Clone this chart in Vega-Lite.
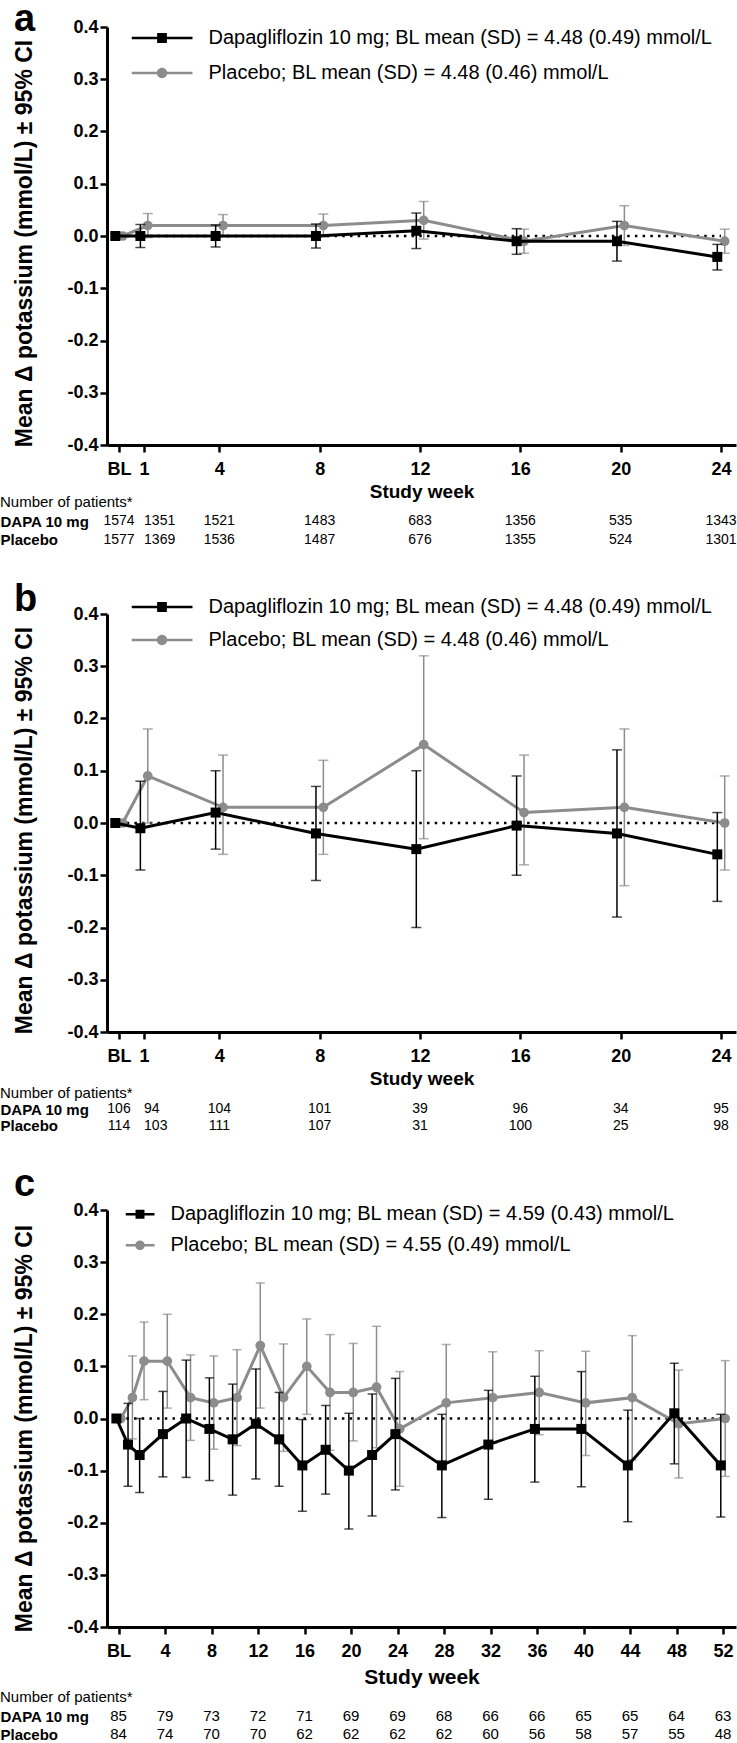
{
  "$schema": "https://vega.github.io/schema/vega-lite/v6.json",
  "background": "white",
  "padding": 0,
  "config": {"view": {"stroke": null}, "font": "Liberation Sans", "axis": {"grid": false}},
  "resolve": {"scale": {"color": "independent", "shape": "independent"}},
  "datasets": {
    "a": [
      {"week": 0, "group": "Dapagliflozin 10 mg", "mean": 0},
      {"week": 1, "group": "Dapagliflozin 10 mg", "mean": 0, "lo": -0.022, "hi": 0.022},
      {"week": 4, "group": "Dapagliflozin 10 mg", "mean": 0, "lo": -0.021, "hi": 0.021},
      {"week": 8, "group": "Dapagliflozin 10 mg", "mean": 0, "lo": -0.023, "hi": 0.023},
      {"week": 12, "group": "Dapagliflozin 10 mg", "mean": 0.01, "lo": -0.024, "hi": 0.044},
      {"week": 16, "group": "Dapagliflozin 10 mg", "mean": -0.01, "lo": -0.035, "hi": 0.014},
      {"week": 20, "group": "Dapagliflozin 10 mg", "mean": -0.01, "lo": -0.048, "hi": 0.028},
      {"week": 24, "group": "Dapagliflozin 10 mg", "mean": -0.04, "lo": -0.065, "hi": -0.016},
      {"week": 0, "group": "Placebo", "mean": 0},
      {"week": 1, "group": "Placebo", "mean": 0.02, "lo": -0.003, "hi": 0.043},
      {"week": 4, "group": "Placebo", "mean": 0.02, "lo": -0.001, "hi": 0.041},
      {"week": 8, "group": "Placebo", "mean": 0.02, "lo": -0.002, "hi": 0.042},
      {"week": 12, "group": "Placebo", "mean": 0.03, "lo": -0.006, "hi": 0.066},
      {"week": 16, "group": "Placebo", "mean": -0.01, "lo": -0.033, "hi": 0.013},
      {"week": 20, "group": "Placebo", "mean": 0.02, "lo": -0.018, "hi": 0.058},
      {"week": 24, "group": "Placebo", "mean": -0.01, "lo": -0.033, "hi": 0.013}
    ],
    "b": [
      {"week": 0, "group": "Dapagliflozin 10 mg", "mean": 0},
      {"week": 1, "group": "Dapagliflozin 10 mg", "mean": -0.01, "lo": -0.09, "hi": 0.08},
      {"week": 4, "group": "Dapagliflozin 10 mg", "mean": 0.02, "lo": -0.05, "hi": 0.1},
      {"week": 8, "group": "Dapagliflozin 10 mg", "mean": -0.02, "lo": -0.11, "hi": 0.07},
      {"week": 12, "group": "Dapagliflozin 10 mg", "mean": -0.05, "lo": -0.2, "hi": 0.1},
      {"week": 16, "group": "Dapagliflozin 10 mg", "mean": -0.005, "lo": -0.1, "hi": 0.09},
      {"week": 20, "group": "Dapagliflozin 10 mg", "mean": -0.02, "lo": -0.18, "hi": 0.14},
      {"week": 24, "group": "Dapagliflozin 10 mg", "mean": -0.06, "lo": -0.15, "hi": 0.02},
      {"week": 0, "group": "Placebo", "mean": 0},
      {"week": 1, "group": "Placebo", "mean": 0.09, "lo": 0.0, "hi": 0.18},
      {"week": 4, "group": "Placebo", "mean": 0.03, "lo": -0.06, "hi": 0.13},
      {"week": 8, "group": "Placebo", "mean": 0.03, "lo": -0.06, "hi": 0.12},
      {"week": 12, "group": "Placebo", "mean": 0.15, "lo": -0.03, "hi": 0.32},
      {"week": 16, "group": "Placebo", "mean": 0.02, "lo": -0.08, "hi": 0.13},
      {"week": 20, "group": "Placebo", "mean": 0.03, "lo": -0.12, "hi": 0.18},
      {"week": 24, "group": "Placebo", "mean": 0.0, "lo": -0.09, "hi": 0.09}
    ],
    "c": [
      {"week": 0, "group": "Dapagliflozin 10 mg", "mean": 0},
      {"week": 1, "group": "Dapagliflozin 10 mg", "mean": -0.05, "lo": -0.13, "hi": 0.029},
      {"week": 2, "group": "Dapagliflozin 10 mg", "mean": -0.07, "lo": -0.142, "hi": 0.0},
      {"week": 4, "group": "Dapagliflozin 10 mg", "mean": -0.03, "lo": -0.112, "hi": 0.052},
      {"week": 6, "group": "Dapagliflozin 10 mg", "mean": 0.0, "lo": -0.113, "hi": 0.112},
      {"week": 8, "group": "Dapagliflozin 10 mg", "mean": -0.02, "lo": -0.119, "hi": 0.078},
      {"week": 10, "group": "Dapagliflozin 10 mg", "mean": -0.04, "lo": -0.147, "hi": 0.066},
      {"week": 12, "group": "Dapagliflozin 10 mg", "mean": -0.01, "lo": -0.116, "hi": 0.095},
      {"week": 14, "group": "Dapagliflozin 10 mg", "mean": -0.04, "lo": -0.13, "hi": 0.05},
      {"week": 16, "group": "Dapagliflozin 10 mg", "mean": -0.09, "lo": -0.178, "hi": -0.002},
      {"week": 18, "group": "Dapagliflozin 10 mg", "mean": -0.06, "lo": -0.145, "hi": 0.025},
      {"week": 20, "group": "Dapagliflozin 10 mg", "mean": -0.1, "lo": -0.212, "hi": 0.01},
      {"week": 22, "group": "Dapagliflozin 10 mg", "mean": -0.07, "lo": -0.187, "hi": 0.047},
      {"week": 24, "group": "Dapagliflozin 10 mg", "mean": -0.03, "lo": -0.137, "hi": 0.077},
      {"week": 28, "group": "Dapagliflozin 10 mg", "mean": -0.09, "lo": -0.19, "hi": 0.008},
      {"week": 32, "group": "Dapagliflozin 10 mg", "mean": -0.05, "lo": -0.155, "hi": 0.054},
      {"week": 36, "group": "Dapagliflozin 10 mg", "mean": -0.02, "lo": -0.122, "hi": 0.081},
      {"week": 40, "group": "Dapagliflozin 10 mg", "mean": -0.02, "lo": -0.131, "hi": 0.09},
      {"week": 44, "group": "Dapagliflozin 10 mg", "mean": -0.09, "lo": -0.198, "hi": 0.016},
      {"week": 48, "group": "Dapagliflozin 10 mg", "mean": 0.01, "lo": -0.087, "hi": 0.106},
      {"week": 52, "group": "Dapagliflozin 10 mg", "mean": -0.09, "lo": -0.189, "hi": 0.008},
      {"week": 0, "group": "Placebo", "mean": 0},
      {"week": 1, "group": "Placebo", "mean": 0.04, "lo": -0.039, "hi": 0.12},
      {"week": 2, "group": "Placebo", "mean": 0.11, "lo": 0.036, "hi": 0.185},
      {"week": 4, "group": "Placebo", "mean": 0.11, "lo": 0.02, "hi": 0.2},
      {"week": 6, "group": "Placebo", "mean": 0.04, "lo": -0.042, "hi": 0.122},
      {"week": 8, "group": "Placebo", "mean": 0.03, "lo": -0.059, "hi": 0.12},
      {"week": 10, "group": "Placebo", "mean": 0.04, "lo": -0.052, "hi": 0.132},
      {"week": 12, "group": "Placebo", "mean": 0.14, "lo": 0.02, "hi": 0.26},
      {"week": 14, "group": "Placebo", "mean": 0.04, "lo": -0.063, "hi": 0.143},
      {"week": 16, "group": "Placebo", "mean": 0.1, "lo": 0.008, "hi": 0.191},
      {"week": 18, "group": "Placebo", "mean": 0.05, "lo": -0.061, "hi": 0.161},
      {"week": 20, "group": "Placebo", "mean": 0.05, "lo": -0.043, "hi": 0.144},
      {"week": 22, "group": "Placebo", "mean": 0.06, "lo": -0.056, "hi": 0.177},
      {"week": 24, "group": "Placebo", "mean": -0.02, "lo": -0.13, "hi": 0.09},
      {"week": 28, "group": "Placebo", "mean": 0.03, "lo": -0.082, "hi": 0.142},
      {"week": 32, "group": "Placebo", "mean": 0.04, "lo": -0.048, "hi": 0.128},
      {"week": 36, "group": "Placebo", "mean": 0.05, "lo": -0.031, "hi": 0.13},
      {"week": 40, "group": "Placebo", "mean": 0.03, "lo": -0.071, "hi": 0.129},
      {"week": 44, "group": "Placebo", "mean": 0.04, "lo": -0.079, "hi": 0.159},
      {"week": 48, "group": "Placebo", "mean": -0.01, "lo": -0.114, "hi": 0.093},
      {"week": 52, "group": "Placebo", "mean": 0.0, "lo": -0.111, "hi": 0.111}
    ],
    "na": [
      {"week": 0, "row": "DAPA 10 mg", "n": 1574}, {"week": 1, "row": "DAPA 10 mg", "n": 1351}, {"week": 4, "row": "DAPA 10 mg", "n": 1521}, {"week": 8, "row": "DAPA 10 mg", "n": 1483},
      {"week": 12, "row": "DAPA 10 mg", "n": 683}, {"week": 16, "row": "DAPA 10 mg", "n": 1356}, {"week": 20, "row": "DAPA 10 mg", "n": 535}, {"week": 24, "row": "DAPA 10 mg", "n": 1343},
      {"week": 0, "row": "Placebo", "n": 1577}, {"week": 1, "row": "Placebo", "n": 1369}, {"week": 4, "row": "Placebo", "n": 1536}, {"week": 8, "row": "Placebo", "n": 1487},
      {"week": 12, "row": "Placebo", "n": 676}, {"week": 16, "row": "Placebo", "n": 1355}, {"week": 20, "row": "Placebo", "n": 524}, {"week": 24, "row": "Placebo", "n": 1301}
    ],
    "nb": [
      {"week": 0, "row": "DAPA 10 mg", "n": 106}, {"week": 1, "row": "DAPA 10 mg", "n": 94}, {"week": 4, "row": "DAPA 10 mg", "n": 104}, {"week": 8, "row": "DAPA 10 mg", "n": 101},
      {"week": 12, "row": "DAPA 10 mg", "n": 39}, {"week": 16, "row": "DAPA 10 mg", "n": 96}, {"week": 20, "row": "DAPA 10 mg", "n": 34}, {"week": 24, "row": "DAPA 10 mg", "n": 95},
      {"week": 0, "row": "Placebo", "n": 114}, {"week": 1, "row": "Placebo", "n": 103}, {"week": 4, "row": "Placebo", "n": 111}, {"week": 8, "row": "Placebo", "n": 107},
      {"week": 12, "row": "Placebo", "n": 31}, {"week": 16, "row": "Placebo", "n": 100}, {"week": 20, "row": "Placebo", "n": 25}, {"week": 24, "row": "Placebo", "n": 98}
    ],
    "nc": [
      {"week": 0, "row": "DAPA 10 mg", "n": 85}, {"week": 4, "row": "DAPA 10 mg", "n": 79}, {"week": 8, "row": "DAPA 10 mg", "n": 73}, {"week": 12, "row": "DAPA 10 mg", "n": 72},
      {"week": 16, "row": "DAPA 10 mg", "n": 71}, {"week": 20, "row": "DAPA 10 mg", "n": 69}, {"week": 24, "row": "DAPA 10 mg", "n": 69}, {"week": 28, "row": "DAPA 10 mg", "n": 68},
      {"week": 32, "row": "DAPA 10 mg", "n": 66}, {"week": 36, "row": "DAPA 10 mg", "n": 66}, {"week": 40, "row": "DAPA 10 mg", "n": 65}, {"week": 44, "row": "DAPA 10 mg", "n": 65},
      {"week": 48, "row": "DAPA 10 mg", "n": 64}, {"week": 52, "row": "DAPA 10 mg", "n": 63},
      {"week": 0, "row": "Placebo", "n": 84}, {"week": 4, "row": "Placebo", "n": 74}, {"week": 8, "row": "Placebo", "n": 70}, {"week": 12, "row": "Placebo", "n": 70},
      {"week": 16, "row": "Placebo", "n": 62}, {"week": 20, "row": "Placebo", "n": 62}, {"week": 24, "row": "Placebo", "n": 62}, {"week": 28, "row": "Placebo", "n": 62},
      {"week": 32, "row": "Placebo", "n": 60}, {"week": 36, "row": "Placebo", "n": 56}, {"week": 40, "row": "Placebo", "n": 58}, {"week": 44, "row": "Placebo", "n": 57},
      {"week": 48, "row": "Placebo", "n": 55}, {"week": 52, "row": "Placebo", "n": 48}
    ]
  },
  "spacing": 31,
  "vconcat": [
    {
      "spacing": -6,
      "vconcat": [
        {
          "width": 629, "height": 418,
          "title": {"text": "a", "anchor": "start", "frame": "bounds", "font": "Liberation Sans", "fontSize": 38, "fontWeight": "bold", "color": "black", "baseline": "alphabetic", "offset": -50.6},
          "data": {"name": "a"},
          "resolve": {"scale": {"x": "independent"}},
          "layer": [
            {
              "mark": {"type": "rule", "color": "black", "strokeWidth": 2.5, "strokeDash": [2.5, 5.2]},
              "encoding": {
                "x": {"aggregate": "min", "field": "week", "type": "quantitative", "scale": {"domain": [-0.4784, 24.5984]},
                  "axis": {"values": [0, 1, 4, 8, 12, 16, 20, 24], "labelExpr": "datum.value == 0 ? 'BL' : datum.label", "title": "Study week", "titleFont": "Liberation Sans", "titleFontSize": 19, "titleFontWeight": "bold", "titleColor": "black", "titlePadding": 4, "labelFont": "Liberation Sans", "labelFontSize": 18, "labelFontWeight": "bold", "labelColor": "black", "labelPadding": 8, "labelOverlap": false, "labelFlush": false, "domainColor": "black", "domainWidth": 3, "tickColor": "black", "tickWidth": 2.5, "tickSize": 7}},
                "x2": {"aggregate": "max", "field": "week"},
                "y": {"datum": 0, "type": "quantitative", "scale": {"domain": [-0.4, 0.4]},
                  "axis": {"values": [-0.4, -0.3, -0.2, -0.1, 0, 0.1, 0.2, 0.3, 0.4], "labelExpr": "replace(format(datum.value, '.1f'), '−', '-')", "title": "Mean Δ potassium (mmol/L) ± 95%  CI", "titleFont": "Liberation Sans", "titleFontSize": 23, "titleFontWeight": "bold", "titleColor": "black", "titlePadding": 30, "titleY": 216, "titleAlign": "center", "labelFont": "Liberation Sans", "labelFontSize": 18, "labelFontWeight": "bold", "labelColor": "black", "labelPadding": 2, "domainColor": "black", "domainWidth": 3, "tickColor": "black", "tickWidth": 2.5, "tickSize": 7, "grid": false}}
              }
            },
            {
              "mark": {"type": "point", "filled": true, "opacity": 0},
              "encoding": {
                "x": {"field": "week", "type": "quantitative", "scale": {"domain": [-0.4784, 24.5984]}, "axis": null},
                "y": {"field": "mean", "type": "quantitative", "scale": {"domain": [-0.4, 0.4]}, "axis": {"title": "Mean Δ potassium (mmol/L) ± 95%  CI"}},
                "color": {"field": "group", "type": "nominal", "scale": {"domain": ["Dapagliflozin 10 mg", "Placebo"], "range": ["#000000", "#8c8c8c"]},
                  "legend": {"orient": "none", "legendX": 24.5, "legendY": 3, "direction": "vertical", "title": null, "padding": 0, "offset": 0, "symbolSize": 3721, "symbolOpacity": 1, "symbolStrokeWidth": 0, "clipHeight": 16, "rowPadding": 15, "labelFont": "Liberation Sans", "labelFontSize": 20, "labelColor": "black", "labelOffset": 16, "labelLimit": 0,
                    "labelExpr": "datum.value == 'Placebo' ? 'Placebo; BL mean (SD) = 4.48 (0.46) mmol/L' : 'Dapagliflozin 10 mg; BL mean (SD) = 4.48 (0.49) mmol/L'"}},
                "shape": {"field": "group", "type": "nominal", "scale": {"domain": ["Dapagliflozin 10 mg", "Placebo"], "range": ["M-1,-0.042H1V0.042H-1Z M-0.16,-0.16H0.16V0.16H-0.16Z", "M-1,-0.042H1V0.042H-1Z M0.17,0A0.17,0.17,0,1,1,-0.17,0A0.17,0.17,0,1,1,0.17,0Z"]},
                  "legend": {"orient": "none", "legendX": 24.5, "legendY": 3, "direction": "vertical", "title": null, "padding": 0, "offset": 0, "symbolSize": 3721, "symbolOpacity": 1, "symbolStrokeWidth": 0, "clipHeight": 16, "rowPadding": 15, "labelFont": "Liberation Sans", "labelFontSize": 20, "labelColor": "black", "labelOffset": 16, "labelLimit": 0,
                    "labelExpr": "datum.value == 'Placebo' ? 'Placebo; BL mean (SD) = 4.48 (0.46) mmol/L' : 'Dapagliflozin 10 mg; BL mean (SD) = 4.48 (0.49) mmol/L'"}}
              }
            },
            {
              "transform": [{"filter": "datum.group == 'Placebo'"}],
              "encoding": {"x": {"field": "week", "type": "quantitative", "scale": {"domain": [-0.6259, 24.4505]}, "axis": null}},
              "layer": [
                {"transform": [{"filter": "isValid(datum.lo)"}], "mark": {"type": "errorbar", "ticks": true, "size": 10, "thickness": 1.5, "color": "#8c8c8c"},
                  "encoding": {"y": {"field": "lo", "type": "quantitative", "scale": {"domain": [-0.4, 0.4]}, "axis": {"title": "Mean Δ potassium (mmol/L) ± 95%  CI"}}, "y2": {"field": "hi"}}},
                {"mark": {"type": "line", "strokeWidth": 3, "color": "#8c8c8c"},
                  "encoding": {"y": {"field": "mean", "type": "quantitative", "scale": {"domain": [-0.4, 0.4]}, "axis": {"title": "Mean Δ potassium (mmol/L) ± 95%  CI"}}}},
                {"mark": {"type": "point", "shape": "circle", "filled": true, "size": 95, "color": "#8c8c8c", "opacity": 1},
                  "encoding": {"y": {"field": "mean", "type": "quantitative", "scale": {"domain": [-0.4, 0.4]}, "axis": {"title": "Mean Δ potassium (mmol/L) ± 95%  CI"}}}}
              ]
            },
            {
              "transform": [{"filter": "datum.group == 'Dapagliflozin 10 mg'"}],
              "encoding": {"x": {"field": "week", "type": "quantitative", "scale": {"domain": [-0.3309, 24.7455]}, "axis": null}},
              "layer": [
                {"transform": [{"filter": "isValid(datum.lo)"}], "mark": {"type": "errorbar", "ticks": true, "size": 10, "thickness": 1.5, "color": "#000000"},
                  "encoding": {"y": {"field": "lo", "type": "quantitative", "scale": {"domain": [-0.4, 0.4]}, "axis": {"title": "Mean Δ potassium (mmol/L) ± 95%  CI"}}, "y2": {"field": "hi"}}},
                {"mark": {"type": "line", "strokeWidth": 3, "color": "#000000"},
                  "encoding": {"y": {"field": "mean", "type": "quantitative", "scale": {"domain": [-0.4, 0.4]}, "axis": {"title": "Mean Δ potassium (mmol/L) ± 95%  CI"}}}},
                {"mark": {"type": "point", "shape": "square", "filled": true, "size": 100, "color": "#000000", "opacity": 1},
                  "encoding": {"y": {"field": "mean", "type": "quantitative", "scale": {"domain": [-0.4, 0.4]}, "axis": {"title": "Mean Δ potassium (mmol/L) ± 95%  CI"}}}}
              ]
            }
          ]
        },
        {
          "width": 629, "height": 37,
          "title": {"text": "Number of patients*", "anchor": "start", "frame": "bounds", "font": "Liberation Sans", "fontSize": 15, "fontWeight": "normal", "color": "black", "offset": 2},
          "data": {"name": "na"},
          "mark": {"type": "text", "font": "Liberation Sans", "fontSize": 14, "color": "black", "align": {"expr": "datum.week == 1 ? 'left' : 'center'"}},
          "encoding": {
            "x": {"field": "week", "type": "quantitative", "scale": {"domain": [-0.4784, 24.5984]}, "axis": null},
            "y": {"field": "row", "type": "nominal", "scale": {"type": "point", "domain": ["DAPA 10 mg", "Placebo"], "padding": 0.5},
              "axis": {"title": null, "domain": false, "ticks": false, "labelAlign": "left", "labelPadding": 107, "labelFont": "Liberation Sans", "labelFontSize": 15, "labelFontWeight": "bold", "labelColor": "black", "labelLimit": 0}},
            "text": {"field": "n", "type": "nominal"}
          }
        }
      ]
    },
    {
      "spacing": -2,
      "vconcat": [
        {
          "width": 629, "height": 418,
          "title": {"text": "b", "anchor": "start", "frame": "bounds", "font": "Liberation Sans", "fontSize": 38, "fontWeight": "bold", "color": "black", "baseline": "alphabetic", "offset": -43.6},
          "data": {"name": "b"},
          "resolve": {"scale": {"x": "independent"}},
          "layer": [
            {
              "mark": {"type": "rule", "color": "black", "strokeWidth": 2.5, "strokeDash": [2.5, 5.2]},
              "encoding": {
                "x": {"aggregate": "min", "field": "week", "type": "quantitative", "scale": {"domain": [-0.4784, 24.5984]},
                  "axis": {"values": [0, 1, 4, 8, 12, 16, 20, 24], "labelExpr": "datum.value == 0 ? 'BL' : datum.label", "title": "Study week", "titleFont": "Liberation Sans", "titleFontSize": 19, "titleFontWeight": "bold", "titleColor": "black", "titlePadding": 4, "labelFont": "Liberation Sans", "labelFontSize": 18, "labelFontWeight": "bold", "labelColor": "black", "labelPadding": 8, "labelOverlap": false, "labelFlush": false, "domainColor": "black", "domainWidth": 3, "tickColor": "black", "tickWidth": 2.5, "tickSize": 7}},
                "x2": {"aggregate": "max", "field": "week"},
                "y": {"datum": 0, "type": "quantitative", "scale": {"domain": [-0.4, 0.4]},
                  "axis": {"values": [-0.4, -0.3, -0.2, -0.1, 0, 0.1, 0.2, 0.3, 0.4], "labelExpr": "replace(format(datum.value, '.1f'), '−', '-')", "title": "Mean Δ potassium (mmol/L) ± 95%  CI", "titleFont": "Liberation Sans", "titleFontSize": 23, "titleFontWeight": "bold", "titleColor": "black", "titlePadding": 30, "titleY": 216, "titleAlign": "center", "labelFont": "Liberation Sans", "labelFontSize": 18, "labelFontWeight": "bold", "labelColor": "black", "labelPadding": 2, "domainColor": "black", "domainWidth": 3, "tickColor": "black", "tickWidth": 2.5, "tickSize": 7, "grid": false}}
              }
            },
            {
              "mark": {"type": "point", "filled": true, "opacity": 0},
              "encoding": {
                "x": {"field": "week", "type": "quantitative", "scale": {"domain": [-0.4784, 24.5984]}, "axis": null},
                "y": {"field": "mean", "type": "quantitative", "scale": {"domain": [-0.4, 0.4]}, "axis": {"title": "Mean Δ potassium (mmol/L) ± 95%  CI"}},
                "color": {"field": "group", "type": "nominal", "scale": {"domain": ["Dapagliflozin 10 mg", "Placebo"], "range": ["#000000", "#8c8c8c"]},
                  "legend": {"orient": "none", "legendX": 24.5, "legendY": -15, "direction": "vertical", "title": null, "padding": 0, "offset": 0, "symbolSize": 3721, "symbolOpacity": 1, "symbolStrokeWidth": 0, "clipHeight": 16, "rowPadding": 13, "labelFont": "Liberation Sans", "labelFontSize": 20, "labelColor": "black", "labelOffset": 16, "labelLimit": 0,
                    "labelExpr": "datum.value == 'Placebo' ? 'Placebo; BL mean (SD) = 4.48 (0.46) mmol/L' : 'Dapagliflozin 10 mg; BL mean (SD) = 4.48 (0.49) mmol/L'"}},
                "shape": {"field": "group", "type": "nominal", "scale": {"domain": ["Dapagliflozin 10 mg", "Placebo"], "range": ["M-1,-0.042H1V0.042H-1Z M-0.16,-0.16H0.16V0.16H-0.16Z", "M-1,-0.042H1V0.042H-1Z M0.17,0A0.17,0.17,0,1,1,-0.17,0A0.17,0.17,0,1,1,0.17,0Z"]},
                  "legend": {"orient": "none", "legendX": 24.5, "legendY": -15, "direction": "vertical", "title": null, "padding": 0, "offset": 0, "symbolSize": 3721, "symbolOpacity": 1, "symbolStrokeWidth": 0, "clipHeight": 16, "rowPadding": 13, "labelFont": "Liberation Sans", "labelFontSize": 20, "labelColor": "black", "labelOffset": 16, "labelLimit": 0,
                    "labelExpr": "datum.value == 'Placebo' ? 'Placebo; BL mean (SD) = 4.48 (0.46) mmol/L' : 'Dapagliflozin 10 mg; BL mean (SD) = 4.48 (0.49) mmol/L'"}}
              }
            },
            {
              "transform": [{"filter": "datum.group == 'Placebo'"}],
              "encoding": {"x": {"field": "week", "type": "quantitative", "scale": {"domain": [-0.6259, 24.4505]}, "axis": null}},
              "layer": [
                {"transform": [{"filter": "isValid(datum.lo)"}], "mark": {"type": "errorbar", "ticks": true, "size": 10, "thickness": 1.5, "color": "#8c8c8c"},
                  "encoding": {"y": {"field": "lo", "type": "quantitative", "scale": {"domain": [-0.4, 0.4]}, "axis": {"title": "Mean Δ potassium (mmol/L) ± 95%  CI"}}, "y2": {"field": "hi"}}},
                {"mark": {"type": "line", "strokeWidth": 3, "color": "#8c8c8c"},
                  "encoding": {"y": {"field": "mean", "type": "quantitative", "scale": {"domain": [-0.4, 0.4]}, "axis": {"title": "Mean Δ potassium (mmol/L) ± 95%  CI"}}}},
                {"mark": {"type": "point", "shape": "circle", "filled": true, "size": 95, "color": "#8c8c8c", "opacity": 1},
                  "encoding": {"y": {"field": "mean", "type": "quantitative", "scale": {"domain": [-0.4, 0.4]}, "axis": {"title": "Mean Δ potassium (mmol/L) ± 95%  CI"}}}}
              ]
            },
            {
              "transform": [{"filter": "datum.group == 'Dapagliflozin 10 mg'"}],
              "encoding": {"x": {"field": "week", "type": "quantitative", "scale": {"domain": [-0.3309, 24.7455]}, "axis": null}},
              "layer": [
                {"transform": [{"filter": "isValid(datum.lo)"}], "mark": {"type": "errorbar", "ticks": true, "size": 10, "thickness": 1.5, "color": "#000000"},
                  "encoding": {"y": {"field": "lo", "type": "quantitative", "scale": {"domain": [-0.4, 0.4]}, "axis": {"title": "Mean Δ potassium (mmol/L) ± 95%  CI"}}, "y2": {"field": "hi"}}},
                {"mark": {"type": "line", "strokeWidth": 3, "color": "#000000"},
                  "encoding": {"y": {"field": "mean", "type": "quantitative", "scale": {"domain": [-0.4, 0.4]}, "axis": {"title": "Mean Δ potassium (mmol/L) ± 95%  CI"}}}},
                {"mark": {"type": "point", "shape": "square", "filled": true, "size": 100, "color": "#000000", "opacity": 1},
                  "encoding": {"y": {"field": "mean", "type": "quantitative", "scale": {"domain": [-0.4, 0.4]}, "axis": {"title": "Mean Δ potassium (mmol/L) ± 95%  CI"}}}}
              ]
            }
          ]
        },
        {
          "width": 629, "height": 33,
          "title": {"text": "Number of patients*", "anchor": "start", "frame": "bounds", "font": "Liberation Sans", "fontSize": 15, "fontWeight": "normal", "color": "black", "offset": 0},
          "data": {"name": "nb"},
          "mark": {"type": "text", "font": "Liberation Sans", "fontSize": 14, "color": "black", "align": {"expr": "datum.week == 1 ? 'left' : 'center'"}},
          "encoding": {
            "x": {"field": "week", "type": "quantitative", "scale": {"domain": [-0.4784, 24.5984]}, "axis": null},
            "y": {"field": "row", "type": "nominal", "scale": {"type": "point", "domain": ["DAPA 10 mg", "Placebo"], "padding": 0.5},
              "axis": {"title": null, "domain": false, "ticks": false, "labelAlign": "left", "labelPadding": 107, "labelFont": "Liberation Sans", "labelFontSize": 15, "labelFontWeight": "bold", "labelColor": "black", "labelLimit": 0}},
            "text": {"field": "n", "type": "nominal"}
          }
        }
      ]
    },
    {
      "spacing": 3,
      "vconcat": [
        {
          "width": 629, "height": 417,
          "title": {"text": "c", "anchor": "start", "frame": "bounds", "font": "Liberation Sans", "fontSize": 38, "fontWeight": "bold", "color": "black", "baseline": "alphabetic", "offset": -32.6},
          "data": {"name": "c"},
          "resolve": {"scale": {"x": "independent"}},
          "layer": [
            {
              "mark": {"type": "rule", "color": "black", "strokeWidth": 2.5, "strokeDash": [2.5, 5.2]},
              "encoding": {
                "x": {"aggregate": "min", "field": "week", "type": "quantitative", "scale": {"domain": [-0.998, 53.119]},
                  "axis": {"values": [0, 4, 8, 12, 16, 20, 24, 28, 32, 36, 40, 44, 48, 52], "labelExpr": "datum.value == 0 ? 'BL' : datum.label", "title": "Study week", "titleFont": "Liberation Sans", "titleFontSize": 21, "titleFontWeight": "bold", "titleColor": "black", "titlePadding": 6, "labelFont": "Liberation Sans", "labelFontSize": 18, "labelFontWeight": "bold", "labelColor": "black", "labelPadding": 8, "labelOverlap": false, "labelFlush": false, "domainColor": "black", "domainWidth": 3, "tickColor": "black", "tickWidth": 2.5, "tickSize": 7}},
                "x2": {"aggregate": "max", "field": "week"},
                "y": {"datum": 0, "type": "quantitative", "scale": {"domain": [-0.4, 0.4]},
                  "axis": {"values": [-0.4, -0.3, -0.2, -0.1, 0, 0.1, 0.2, 0.3, 0.4], "labelExpr": "replace(format(datum.value, '.1f'), '−', '-')", "title": "Mean Δ potassium (mmol/L) ± 95%  CI", "titleFont": "Liberation Sans", "titleFontSize": 23, "titleFontWeight": "bold", "titleColor": "black", "titlePadding": 30, "titleY": 218, "titleAlign": "center", "labelFont": "Liberation Sans", "labelFontSize": 18, "labelFontWeight": "bold", "labelColor": "black", "labelPadding": 2, "domainColor": "black", "domainWidth": 3, "tickColor": "black", "tickWidth": 2.5, "tickSize": 7, "grid": false}}
              }
            },
            {
              "mark": {"type": "point", "filled": true, "opacity": 0},
              "encoding": {
                "x": {"field": "week", "type": "quantitative", "scale": {"domain": [-0.998, 53.119]}, "axis": null},
                "y": {"field": "mean", "type": "quantitative", "scale": {"domain": [-0.4, 0.4]}, "axis": {"title": "Mean Δ potassium (mmol/L) ± 95%  CI"}},
                "color": {"field": "group", "type": "nominal", "scale": {"domain": ["Dapagliflozin 10 mg", "Placebo"], "range": ["#000000", "#8c8c8c"]},
                  "legend": {"orient": "none", "legendX": 18.5, "legendY": -3.7, "direction": "vertical", "title": null, "padding": 0, "offset": 0, "symbolSize": 841, "symbolOpacity": 1, "symbolStrokeWidth": 0, "clipHeight": 16, "rowPadding": 11, "labelFont": "Liberation Sans", "labelFontSize": 20, "labelColor": "black", "labelOffset": 16, "labelLimit": 0,
                    "labelExpr": "datum.value == 'Placebo' ? 'Placebo; BL mean (SD) = 4.55 (0.49) mmol/L' : 'Dapagliflozin 10 mg; BL mean (SD) = 4.59 (0.43) mmol/L'"}},
                "shape": {"field": "group", "type": "nominal", "scale": {"domain": ["Dapagliflozin 10 mg", "Placebo"], "range": ["M-1,-0.086H1V0.086H-1Z M-0.31,-0.31H0.31V0.31H-0.31Z", "M-1,-0.086H1V0.086H-1Z M0.33,0A0.33,0.33,0,1,1,-0.33,0A0.33,0.33,0,1,1,0.33,0Z"]},
                  "legend": {"orient": "none", "legendX": 18.5, "legendY": -3.7, "direction": "vertical", "title": null, "padding": 0, "offset": 0, "symbolSize": 841, "symbolOpacity": 1, "symbolStrokeWidth": 0, "clipHeight": 16, "rowPadding": 11, "labelFont": "Liberation Sans", "labelFontSize": 20, "labelColor": "black", "labelOffset": 16, "labelLimit": 0,
                    "labelExpr": "datum.value == 'Placebo' ? 'Placebo; BL mean (SD) = 4.55 (0.49) mmol/L' : 'Dapagliflozin 10 mg; BL mean (SD) = 4.59 (0.43) mmol/L'"}}
              }
            },
            {
              "transform": [{"filter": "datum.group == 'Placebo'"}],
              "encoding": {"x": {"field": "week", "type": "quantitative", "scale": {"domain": [-1.187, 52.93]}, "axis": null}},
              "layer": [
                {"transform": [{"filter": "isValid(datum.lo)"}], "mark": {"type": "errorbar", "ticks": true, "size": 9, "thickness": 1.5, "color": "#8c8c8c"},
                  "encoding": {"y": {"field": "lo", "type": "quantitative", "scale": {"domain": [-0.4, 0.4]}, "axis": {"title": "Mean Δ potassium (mmol/L) ± 95%  CI"}}, "y2": {"field": "hi"}}},
                {"mark": {"type": "line", "strokeWidth": 3, "color": "#8c8c8c"},
                  "encoding": {"y": {"field": "mean", "type": "quantitative", "scale": {"domain": [-0.4, 0.4]}, "axis": {"title": "Mean Δ potassium (mmol/L) ± 95%  CI"}}}},
                {"mark": {"type": "point", "shape": "circle", "filled": true, "size": 95, "color": "#8c8c8c", "opacity": 1},
                  "encoding": {"y": {"field": "mean", "type": "quantitative", "scale": {"domain": [-0.4, 0.4]}, "axis": {"title": "Mean Δ potassium (mmol/L) ± 95%  CI"}}}}
              ]
            },
            {
              "transform": [{"filter": "datum.group == 'Dapagliflozin 10 mg'"}],
              "encoding": {"x": {"field": "week", "type": "quantitative", "scale": {"domain": [-0.809, 53.308]}, "axis": null}},
              "layer": [
                {"transform": [{"filter": "isValid(datum.lo)"}], "mark": {"type": "errorbar", "ticks": true, "size": 9, "thickness": 1.5, "color": "#000000"},
                  "encoding": {"y": {"field": "lo", "type": "quantitative", "scale": {"domain": [-0.4, 0.4]}, "axis": {"title": "Mean Δ potassium (mmol/L) ± 95%  CI"}}, "y2": {"field": "hi"}}},
                {"mark": {"type": "line", "strokeWidth": 3, "color": "#000000"},
                  "encoding": {"y": {"field": "mean", "type": "quantitative", "scale": {"domain": [-0.4, 0.4]}, "axis": {"title": "Mean Δ potassium (mmol/L) ± 95%  CI"}}}},
                {"mark": {"type": "point", "shape": "square", "filled": true, "size": 100, "color": "#000000", "opacity": 1},
                  "encoding": {"y": {"field": "mean", "type": "quantitative", "scale": {"domain": [-0.4, 0.4]}, "axis": {"title": "Mean Δ potassium (mmol/L) ± 95%  CI"}}}}
              ]
            }
          ]
        },
        {
          "width": 629, "height": 36,
          "title": {"text": "Number of patients*", "anchor": "start", "frame": "bounds", "font": "Liberation Sans", "fontSize": 15, "fontWeight": "normal", "color": "black", "offset": 2},
          "data": {"name": "nc"},
          "mark": {"type": "text", "font": "Liberation Sans", "fontSize": 15, "color": "black"},
          "encoding": {
            "x": {"field": "week", "type": "quantitative", "scale": {"domain": [-0.998, 53.119]}, "axis": null},
            "y": {"field": "row", "type": "nominal", "scale": {"type": "point", "domain": ["DAPA 10 mg", "Placebo"], "padding": 0.5},
              "axis": {"title": null, "domain": false, "ticks": false, "labelAlign": "left", "labelPadding": 107, "labelFont": "Liberation Sans", "labelFontSize": 15, "labelFontWeight": "bold", "labelColor": "black", "labelLimit": 0}},
            "text": {"field": "n", "type": "nominal"}
          }
        }
      ]
    }
  ]
}
